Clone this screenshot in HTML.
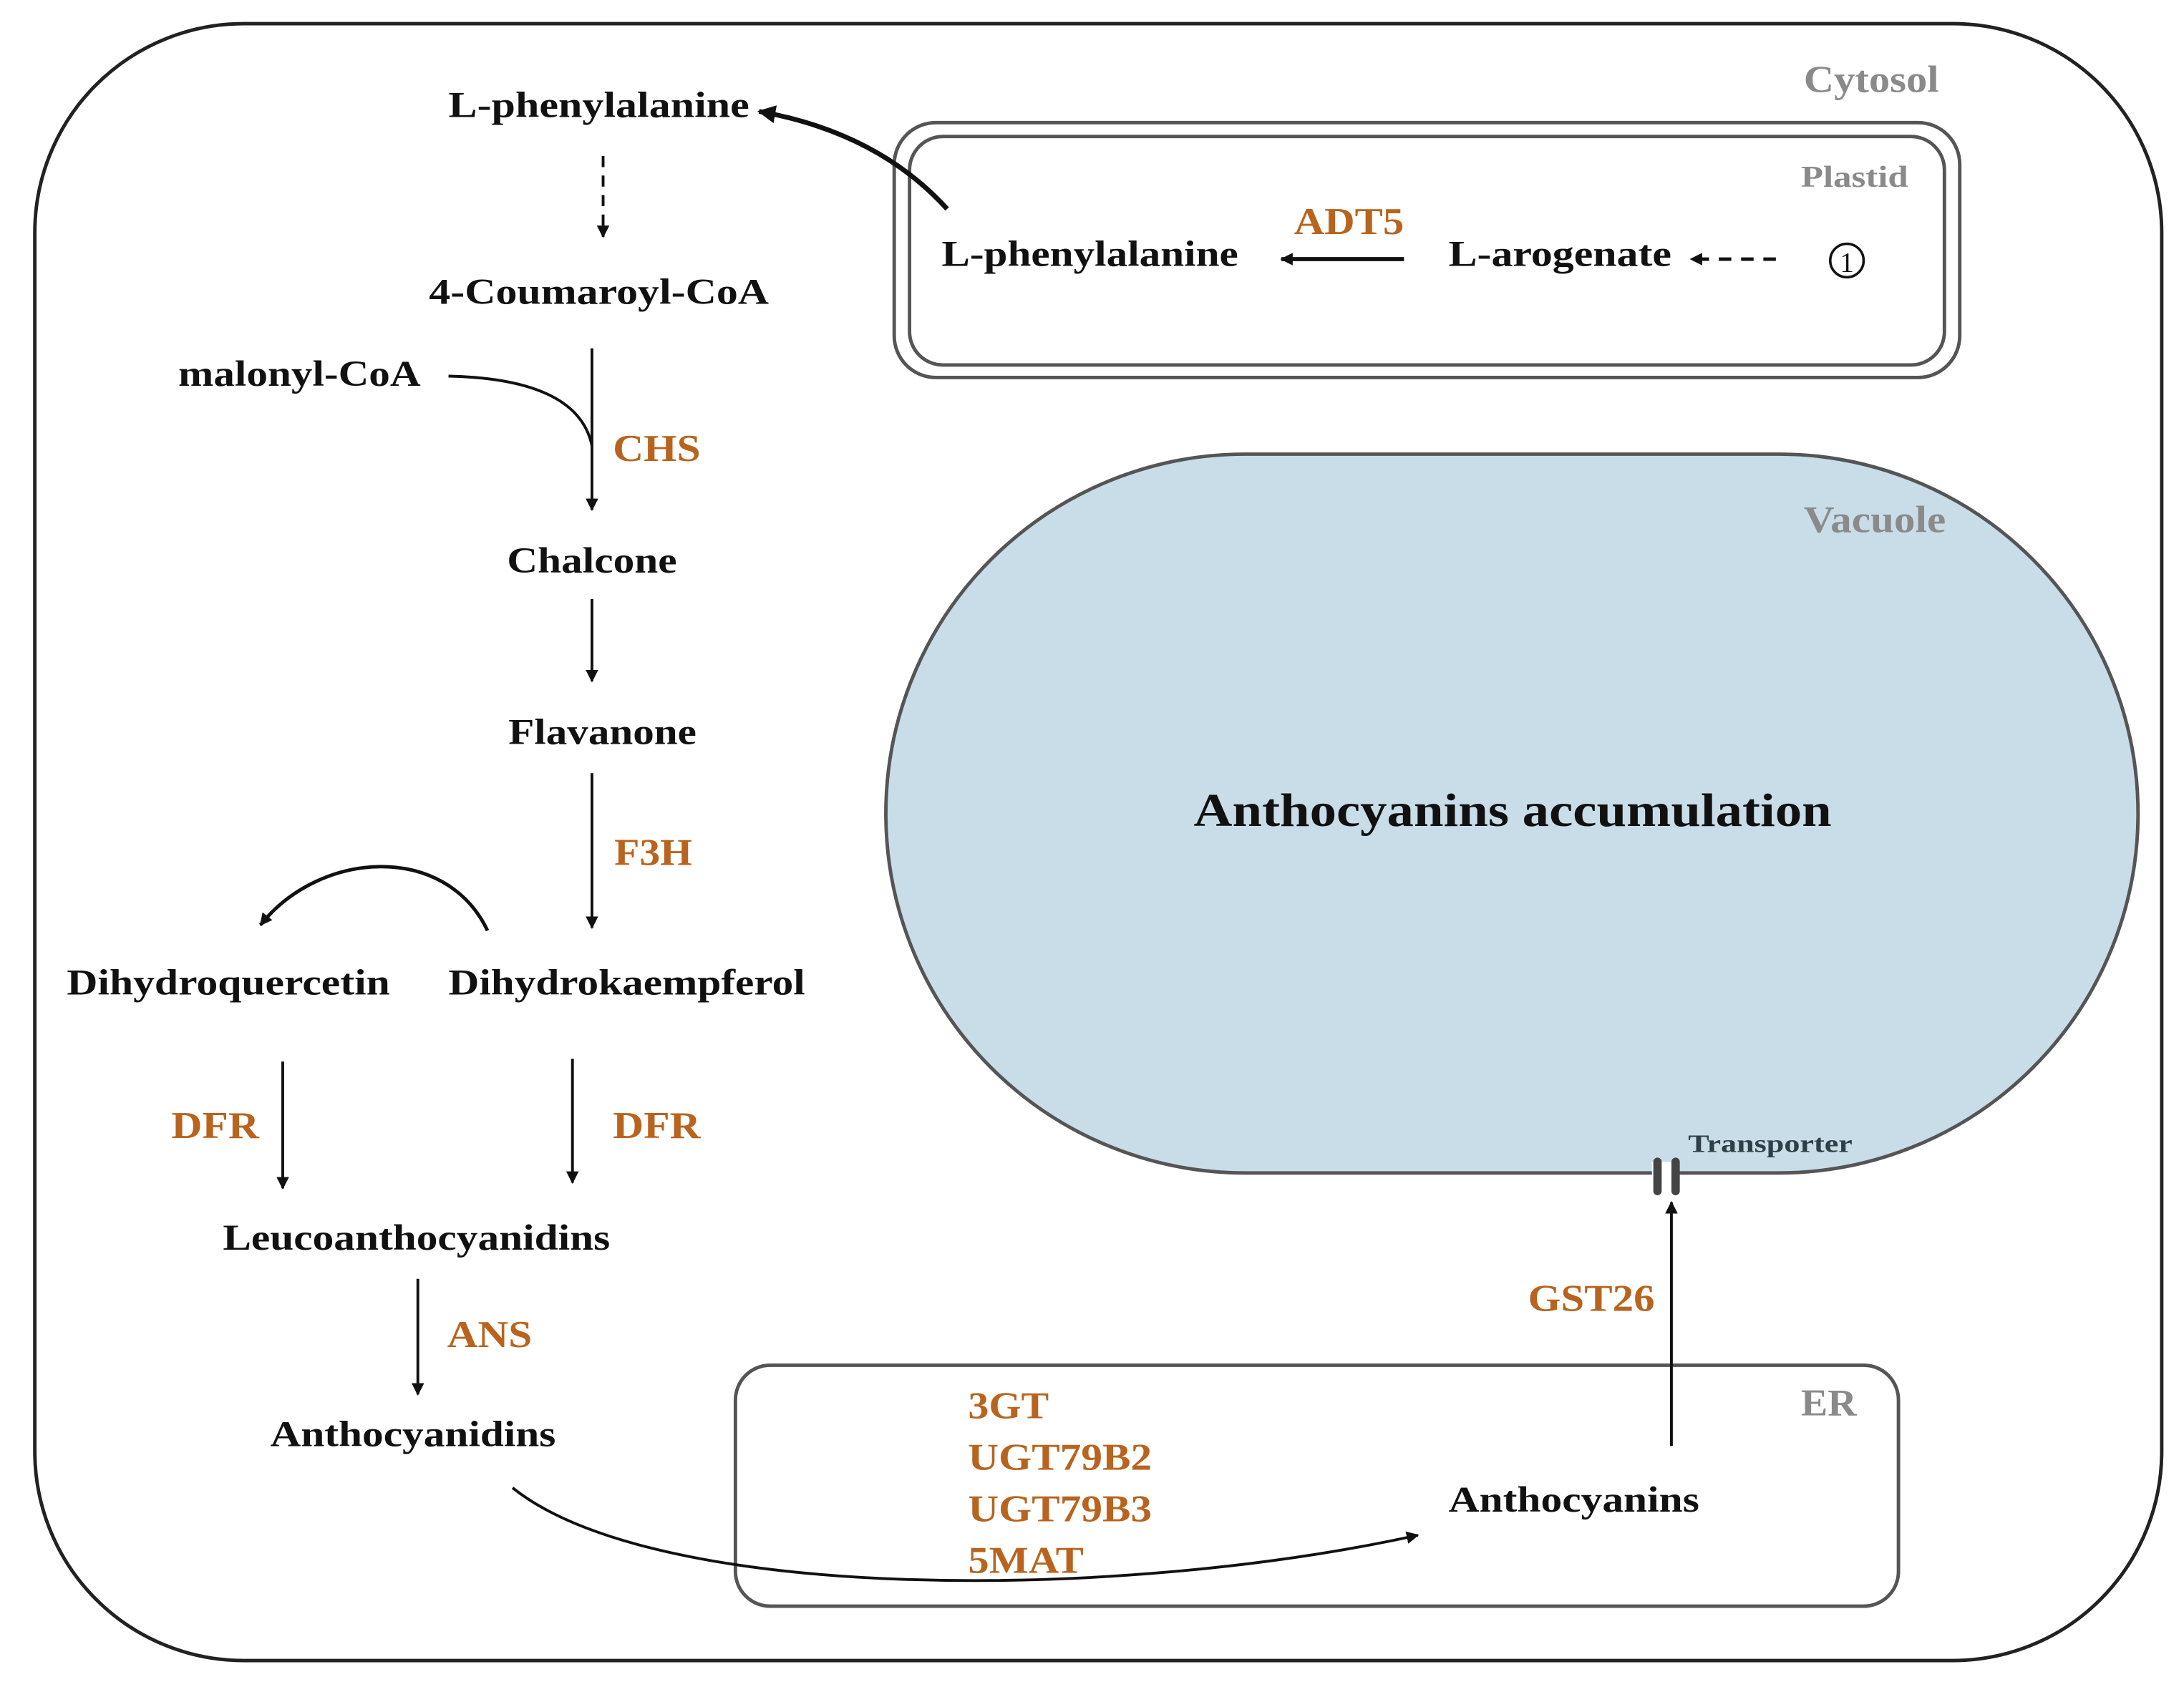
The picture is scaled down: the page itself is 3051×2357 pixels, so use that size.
<!DOCTYPE html>
<html><head><meta charset="utf-8"><style>
html,body{margin:0;padding:0;background:#fff;}
svg{display:block;}
text{font-family:"Liberation Serif",serif;font-weight:bold;}
.k{fill:#111;font-size:26px;}
.o{fill:#b8641e;font-size:27px;}
.g{fill:#8a8a8a;font-size:27px;}
</style></head><body>
<svg width="3051" height="2357" viewBox="0 0 1568 1211" preserveAspectRatio="none" xmlns="http://www.w3.org/2000/svg">
<defs>
<marker id="a" viewBox="0 0 10 10" refX="9" refY="5" markerWidth="9" markerHeight="9" markerUnits="userSpaceOnUse" orient="auto"><path d="M0,0L10,5L0,10z" fill="#111"/></marker>
<marker id="b" viewBox="0 0 10 10" refX="9" refY="5" markerWidth="13" markerHeight="13" markerUnits="userSpaceOnUse" orient="auto"><path d="M0,0L10,5L0,10z" fill="#111"/></marker>
</defs>
<rect width="1568" height="1211" fill="#fff"/>
<!-- cell -->
<rect x="25" y="17" width="1527" height="1175" rx="150" ry="150" fill="none" stroke="#222" stroke-width="2.5"/>
<text x="1295" y="66" class="g" textLength="97" lengthAdjust="spacingAndGlyphs">Cytosol</text>
<!-- plastid -->
<rect x="642" y="88" width="765" height="183" rx="30" fill="none" stroke="#555" stroke-width="2.5"/>
<rect x="653" y="98" width="743" height="164" rx="24" fill="none" stroke="#555" stroke-width="2.5"/>
<text x="1293" y="134" class="g" style="font-size:22px" textLength="77" lengthAdjust="spacingAndGlyphs">Plastid</text>
<text x="676" y="191" class="k" textLength="213" lengthAdjust="spacingAndGlyphs">L-phenylalanine</text>
<text x="929" y="168" class="o" textLength="79" lengthAdjust="spacingAndGlyphs">ADT5</text>
<line x1="1008" y1="186" x2="920" y2="186" stroke="#111" stroke-width="3" marker-end="url(#a)"/>
<text x="1040" y="191" class="k" textLength="160" lengthAdjust="spacingAndGlyphs">L-arogenate</text>
<line x1="1275" y1="186" x2="1214" y2="186" stroke="#111" stroke-width="2.5" stroke-dasharray="9,7" marker-end="url(#a)"/>
<circle cx="1326" cy="187" r="12" fill="none" stroke="#111" stroke-width="1.8"/>
<text x="1326" y="195" text-anchor="middle" style="font-size:20px;font-weight:normal;fill:#111">1</text>
<!-- top -->
<text x="322" y="84" class="k" textLength="216" lengthAdjust="spacingAndGlyphs">L-phenylalanine</text>
<path d="M680,150 Q630,95 545,80" fill="none" stroke="#111" stroke-width="3.5" marker-end="url(#b)"/>
<line x1="433" y1="112" x2="433" y2="170" stroke="#111" stroke-width="2" stroke-dasharray="8,6" marker-end="url(#a)"/>
<text x="308" y="218" class="k" textLength="244" lengthAdjust="spacingAndGlyphs">4-Coumaroyl-CoA</text>
<text x="128" y="277" class="k" textLength="174" lengthAdjust="spacingAndGlyphs">malonyl-CoA</text>
<line x1="425" y1="250" x2="425" y2="366" stroke="#111" stroke-width="2" marker-end="url(#a)"/>
<path d="M322,270 Q415,272 425,320" fill="none" stroke="#111" stroke-width="2"/>
<text x="440" y="331" class="o" textLength="63" lengthAdjust="spacingAndGlyphs">CHS</text>
<text x="364" y="411" class="k" textLength="122" lengthAdjust="spacingAndGlyphs">Chalcone</text>
<line x1="425" y1="430" x2="425" y2="489" stroke="#111" stroke-width="2" marker-end="url(#a)"/>
<text x="365" y="534" class="k" textLength="135" lengthAdjust="spacingAndGlyphs">Flavanone</text>
<line x1="425" y1="555" x2="425" y2="666" stroke="#111" stroke-width="2" marker-end="url(#a)"/>
<text x="441" y="621" class="o" textLength="56" lengthAdjust="spacingAndGlyphs">F3H</text>
<path d="M350,668 C320,605 230,610 187,664" fill="none" stroke="#111" stroke-width="2.5" marker-end="url(#a)"/>
<text x="48" y="714" class="k" textLength="232" lengthAdjust="spacingAndGlyphs">Dihydroquercetin</text>
<text x="322" y="714" class="k" textLength="256" lengthAdjust="spacingAndGlyphs">Dihydrokaempferol</text>
<text x="123" y="817" class="o" textLength="63" lengthAdjust="spacingAndGlyphs">DFR</text>
<line x1="203" y1="762" x2="203" y2="853" stroke="#111" stroke-width="2" marker-end="url(#a)"/>
<text x="440" y="817" class="o" textLength="63" lengthAdjust="spacingAndGlyphs">DFR</text>
<line x1="411" y1="760" x2="411" y2="849" stroke="#111" stroke-width="2" marker-end="url(#a)"/>
<text x="160" y="897" class="k" textLength="278" lengthAdjust="spacingAndGlyphs">Leucoanthocyanidins</text>
<line x1="300" y1="918" x2="300" y2="1001" stroke="#111" stroke-width="2" marker-end="url(#a)"/>
<text x="321" y="967" class="o" textLength="61" lengthAdjust="spacingAndGlyphs">ANS</text>
<text x="194" y="1038" class="k" textLength="205" lengthAdjust="spacingAndGlyphs">Anthocyanidins</text>
<!-- ER -->
<rect x="528" y="980" width="835" height="173" rx="25" fill="none" stroke="#555" stroke-width="2.5"/>
<text x="1293" y="1016" class="g" textLength="40" lengthAdjust="spacingAndGlyphs">ER</text>
<text x="695" y="1018" class="o" textLength="58" lengthAdjust="spacingAndGlyphs">3GT</text>
<text x="695" y="1055" class="o" textLength="132" lengthAdjust="spacingAndGlyphs">UGT79B2</text>
<text x="695" y="1092" class="o" textLength="132" lengthAdjust="spacingAndGlyphs">UGT79B3</text>
<text x="695" y="1129" class="o" textLength="83" lengthAdjust="spacingAndGlyphs">5MAT</text>
<path d="M368,1068 C470,1150 800,1150 1018,1102" fill="none" stroke="#111" stroke-width="2" marker-end="url(#a)"/>
<text x="1040" y="1085" class="k" textLength="180" lengthAdjust="spacingAndGlyphs">Anthocyanins</text>
<line x1="1200" y1="1038" x2="1200" y2="863" stroke="#111" stroke-width="2" marker-end="url(#a)"/>
<text x="1097" y="941" class="o" textLength="91" lengthAdjust="spacingAndGlyphs">GST26</text>
<!-- vacuole -->
<rect x="636" y="326" width="899" height="516" rx="258" ry="258" fill="#c9dde9" stroke="#555" stroke-width="2.5"/>
<text x="1295" y="382" class="g" textLength="102" lengthAdjust="spacingAndGlyphs">Vacuole</text>
<text x="857" y="593" style="font-size:34px;fill:#111" textLength="458" lengthAdjust="spacingAndGlyphs">Anthocyanins accumulation</text>
<rect x="1186" y="834" width="14" height="24" fill="#fff"/>
<rect x="1187" y="831" width="6" height="27" rx="3" fill="#444"/>
<rect x="1200" y="831" width="6" height="27" rx="3" fill="#444"/>
<text x="1212" y="827" style="font-size:18px;fill:#2f3f48" textLength="118" lengthAdjust="spacingAndGlyphs">Transporter</text>
</svg>
</body></html>
